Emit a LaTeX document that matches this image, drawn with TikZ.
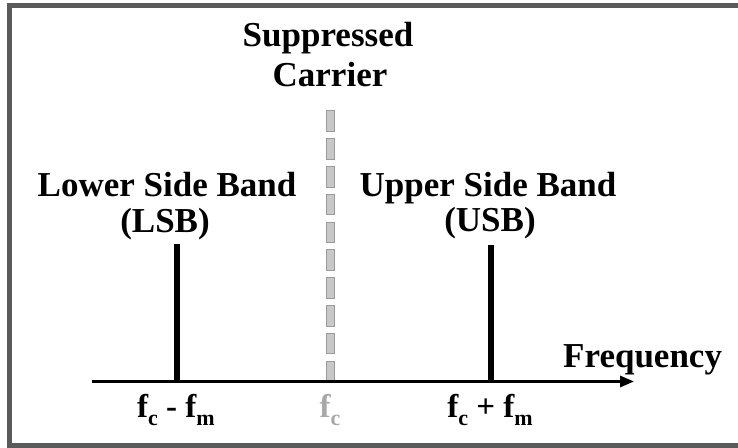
\documentclass[tikz,border=0pt]{standalone}
\usepackage{fontspec}
\setmainfont{Liberation Serif}
\usetikzlibrary{arrows.meta}
\definecolor{framegray}{HTML}{5A5A5A}
\definecolor{dashfill}{HTML}{C8C8C8}
\definecolor{dashline}{HTML}{9A9A9A}
\definecolor{carrierlbl}{HTML}{A8A8A8}
\newcommand{\lowsub}[1]{\raisebox{-0.26em}{\fontsize{22}{22}\selectfont #1}}
\begin{document}
\begin{tikzpicture}[x=1pt,y=1pt,
  lbl/.style={font=\fontsize{35}{40}\selectfont\bfseries, inner sep=0pt, anchor=base},
  freqlbl/.style={font=\fontsize{33}{36}\selectfont\bfseries, inner sep=0pt, anchor=base},
  spike/.style={line width=6pt},
  axisline/.style={line width=3pt, -{Triangle[length=14pt,width=11pt]}},
  carrierdash/.style={fill=dashfill, draw=dashline, line width=1pt},
  frameline/.style={draw=framegray, line width=5.5pt}
]
\useasboundingbox (0,0) rectangle (738,447);
% outer frame (right side runs past the page edge)
\begin{scope}
  \clip (0,0) rectangle (738,447);
  \draw[frameline] (9.5,1.5) rectangle (760,441.5);
\end{scope}

% suppressed carrier marker
\foreach \i in {0,...,9}
  \draw[carrierdash] (326,{336-27.8*\i}) rectangle ++(8,-20.5);

% frequency axis
\coordinate (axstart) at (92,65.5);
\coordinate (axend) at (634,65.5);
\draw[axisline] (axstart) -- (axend);

% side band components
\coordinate (lsbtop) at (177,203);
\coordinate (lsbfoot) at (177,65.5);
\coordinate (usbtop) at (491,202);
\coordinate (usbfoot) at (491,65.5);
\draw[spike] (lsbtop) -- (lsbfoot);
\draw[spike] (usbtop) -- (usbfoot);

% labels
\node[lbl] (supp) at (328,400) {Suppressed};
\node[lbl] (carr) at (330,360) {Carrier};
\node[lbl] (lsb1) at (167,250) {Lower Side Band};
\node[lbl] (lsb2) at (165,214) {(LSB)};
\node[lbl] (usb1) at (488,250) {Upper Side Band};
\node[lbl] (usb2) at (490,215) {(USB)};
\node[lbl, anchor=base west] (freq) at (563,80) {Frequency};

\node[freqlbl] (fl) at (176,30) {f\lowsub{c} - f\lowsub{m}};
\node[freqlbl, text=carrierlbl] (fc) at (330,30) {f\lowsub{c}};
\node[freqlbl] (fu) at (490,30) {f\lowsub{c} + f\lowsub{m}};
\end{tikzpicture}
\end{document}
